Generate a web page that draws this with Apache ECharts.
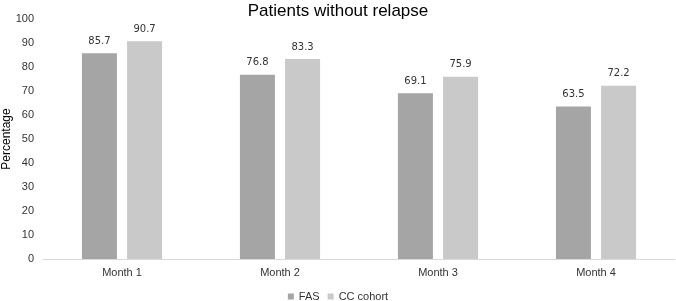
<!DOCTYPE html>
<html>
<head>
<meta charset="utf-8">
<script src="https://cdn.jsdelivr.net/npm/echarts@6/dist/echarts.min.js"></script>
<style>
    html, body { margin: 0; padding: 0; background: #fff; }
    #chart { width: 676px; height: 301px; }
</style>
</head>
<body>
<div id="chart"></div>
<script>
var months = ['Month 1', 'Month 2', 'Month 3', 'Month 4'];
var fasValues = [85.7, 76.8, 69.1, 63.5];
var ccValues = [90.7, 83.3, 75.9, 72.2];
var yTicks = [0, 10, 20, 30, 40, 50, 60, 70, 80, 90, 100];

var font = 'Liberation Sans, Arial, sans-serif';

var chart = echarts.init(document.getElementById('chart'));
var option = {
    backgroundColor: '#fff',
    animation: false,
    title: {
        text: 'Patients without relapse',
        left: 'center',
        top: -2,
        textStyle: { fontFamily: font, fontSize: 17, fontWeight: 'normal', color: '#000' }
    },
    legend: {
        top: 286,
        left: 'center',
        itemWidth: 6,
        itemHeight: 6,
        itemGap: 8,
        icon: 'rect',
        textStyle: { fontFamily: font, fontSize: 11, color: '#333' },
        data: ['FAS', 'CC cohort']
    },
    grid: { left: 43, right: 1, top: 19, bottom: 42, outerBoundsMode: 'none' },
    xAxis: {
        type: 'category',
        data: months,
        axisTick: { show: false },
        axisLine: { lineStyle: { color: '#d9d9d9' } },
        axisLabel: { fontFamily: font, fontSize: 11, color: '#333', margin: 8 }
    },
    yAxis: {
        type: 'value',
        min: yTicks[0],
        max: yTicks[yTicks.length - 1],
        interval: 10,
        name: 'Percentage',
        nameLocation: 'middle',
        nameGap: 30,
        nameMoveOverlap: false,
        nameTextStyle: { fontFamily: font, fontSize: 12, color: '#000' },
        splitLine: { show: false },
        axisLine: { show: false },
        axisTick: { show: false },
        axisLabel: { fontFamily: font, fontSize: 11, color: '#333', margin: 9 }
    },
    series: [
        {
            name: 'FAS',
            type: 'bar',
            data: fasValues,
            barWidth: 35,
            barGap: '29%',
            itemStyle: { color: '#a5a5a5' },
            label: { show: true, position: 'top', distance: 7, fontFamily: 'DejaVu Sans, sans-serif', fontSize: 10, color: '#333' }
        },
        {
            name: 'CC cohort',
            type: 'bar',
            data: ccValues,
            barWidth: 35,
            itemStyle: { color: '#c9c9c9' },
            label: { show: true, position: 'top', distance: 7, fontFamily: 'DejaVu Sans, sans-serif', fontSize: 10, color: '#333' }
        }
    ]
};
chart.setOption(option);
</script>
</body>
</html>
